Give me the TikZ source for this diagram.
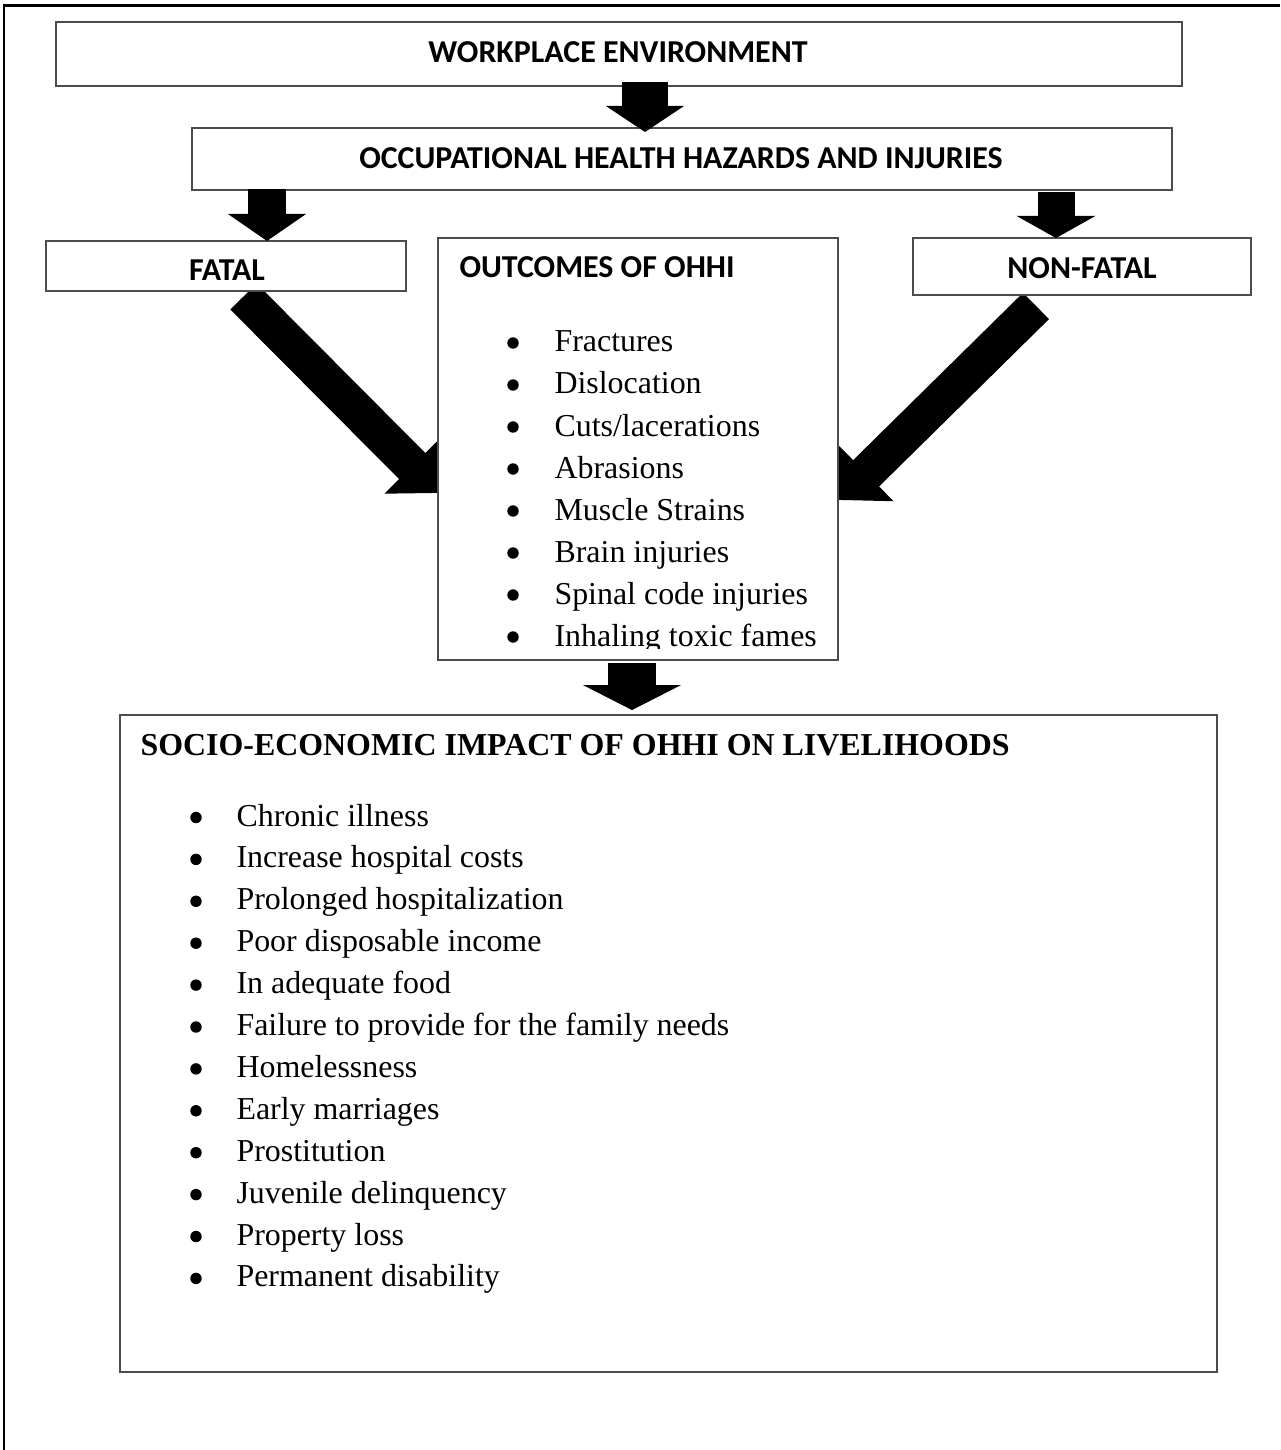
\documentclass[tikz,border=0pt]{standalone}
\usepackage{fontspec}
\setmainfont{Liberation Serif}
\newfontfamily\headfont{Carlito}
\usetikzlibrary{arrows.meta, calc, backgrounds}

\begin{document}
\begin{tikzpicture}[x=0.376pt, y=-0.376pt,
		box/.style n args={2}{draw=black!70, line width=0.7pt, fill=white, inner sep=0pt, outer sep=0pt, minimum width=#1, minimum height=#2},
		head/.style={font=\headfont\bfseries\fontsize{12}{14}\selectfont, inner sep=0pt},
		item/.style={font=\fontsize{12}{14}\selectfont, inner sep=0pt, anchor=base west},
		dot/.style={circle, fill, inner sep=0pt, minimum size=4.3pt},
		blockarrow/.style n args={3}{line width=#1, -{Triangle[width=#2, length=#3]}}]
		\useasboundingbox (0,0) rectangle (1280,1450);
		\draw[line width=0.8pt] (4,1450) -- (4,5.5) -- (1280,5.5);
		% boxes
		\node[box={423.4pt}{24.1pt}] (workplace) at (619,54) {};
		\node[box={368.5pt}{23.3pt}] (occ) at (682,159) {};
		\node[box={135.4pt}{18.8pt}] (fatal) at (226,266) {};
		\node[box={127.1pt}{21.4pt}] (nonfatal) at (1082,266.5) {};
		\node[box={150.4pt}{158.7pt}] (outcomes) at (638,449) {};
		\node[box={412.5pt}{247.0pt}] (impact) at (668.5,1043.5) {};
		% headings
		\node[head, anchor=base] (workplace-txt) at (618,63) {WORKPLACE ENVIRONMENT};
		\node[head, anchor=base] (occ-txt) at (681,169) {OCCUPATIONAL HEALTH HAZARDS AND INJURIES};
		\node[head, anchor=base] (fatal-txt) at (227,281) {FATAL};
		\node[head, anchor=base] (nonfatal-txt) at (1082,279) {NON-FATAL};
		\node[head, anchor=base west] (outcomes-txt) at (459,278) {OUTCOMES OF OHHI};
		\node[item, font=\bfseries\fontsize{12}{14}\selectfont] (impact-txt) at (140,755) {SOCIO-ECONOMIC IMPACT OF OHHI ON LIVELIHOODS};
		% outcome list
		\begin{scope}
			\clip (438,238) rectangle (838,648);
			\foreach \t [count=\i from 0] in {Fractures, Dislocation, Cuts/lacerations, Abrasions, Muscle Strains, Brain injuries, Spinal code injuries, Inhaling toxic fames} {
				\pgfmathsetmacro{\yy}{352+42*\i}
				\node[dot] (odot\i) at (513,\yy-9) {};
				\node[item] (oitem\i) at (554,\yy) {\t};
			}
		\end{scope}
		% impact list
		\foreach \t [count=\i from 0] in {Chronic illness, Increase hospital costs, Prolonged hospitalization, Poor disposable income, In adequate food, Failure to provide for the family needs, Homelessness, Early marriages, Prostitution, Juvenile delinquency, Property loss, Permanent disability} {
			\pgfmathsetmacro{\yy}{826+41.9*\i}
			\node[dot] (idot\i) at (196,\yy-8.5) {};
			\node[item] (iitem\i) at (236,\yy) {\t};
		}
		% down arrows
		\draw[blockarrow={17.3pt}{29.0pt}{9.8pt}] ($(workplace.south)+(26,-4)$) -- ($(occ.north -| workplace.south)+(26,4)$);
		\draw[blockarrow={14.3pt}{29.0pt}{10.2pt}] ($(occ.south -| fatal.north)+(41,-1)$) -- ($(fatal.north)+(41,0)$);
		\draw[blockarrow={13.9pt}{29.3pt}{8.3pt}] ($(occ.south -| nonfatal.north)+(-26,2)$) -- ($(nonfatal.north)+(-26,0)$);
		\draw[blockarrow={17.7pt}{36.5pt}{9.4pt}] ($(outcomes.south)+(-6,3)$) -- ($(impact.north -| outcomes.south)+(-6,-5)$);
		% diagonal arrows, under the outcome box
		\begin{pgfonlayer}{background}
			\draw[blockarrow={13.9pt}{28.6pt}{14.3pt}] ($(fatal.south)+(17.5,5.5)$) -- ($(outcomes.west)+(1,44)$);
			\draw[blockarrow={13.9pt}{28.6pt}{14.3pt}] ($(nonfatal.south)+(-46,11)$) -- ($(outcomes.east)+(1,51)$);
		\end{pgfonlayer}
\end{tikzpicture}
\end{document}
